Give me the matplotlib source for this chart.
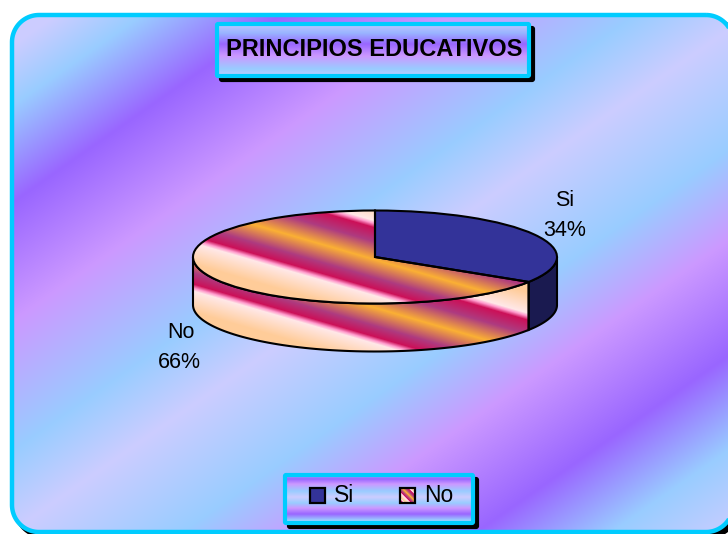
import numpy as np
import matplotlib
matplotlib.use("Agg")
import matplotlib.pyplot as plt
from matplotlib.colors import to_rgb
from matplotlib.patches import Polygon, Rectangle

plt.rcParams["font.family"] = ["Liberation Sans", "DejaVu Sans"]

# Data
categories = ["Si", "No"]
shares = [34, 66]
title_text = "PRINCIPIOS EDUCATIVOS"

W, H = 728, 534
BLUE = "#333399"
BLUE_SIDE = "#1a1a50"
CYAN = "#00ccff"

# pie geometry, in pixels
cx, cy, rx, ry, depth = 375, 257, 182, 46.5, 48

# gradients: position along the band direction, colour
bg_stops = [(55, "#ccccff"), (115, "#99ccff"), (211, "#9966ff"), (330, "#cc99ff"),
            (460, "#99ccff"), (540, "#ccccff"), (660, "#99ccff"), (750, "#cc99ff"),
            (866, "#9966ff"), (960, "#99ccff"), (1050, "#ccccff")]
title_stops = [(22, "#ccccff"), (33, "#99b4ff"), (44, "#9966ff"), (56, "#cc99ff"),
               (69, "#99ccff"), (78, "#ccccff")]
legend_stops = [(473, "#99ccff"), (479, "#9966ff"), (484, "#cc99ff"), (491, "#99ccff"),
                (497, "#ccccff"), (503, "#99ccff"), (508, "#cc99ff"), (514, "#9966ff"),
                (520, "#99ccff"), (524, "#ccccff")]
stripe_stops = [(-25, "#ffcc99"), (-4, "#ffe8e8"), (-1, "#ff99cc"), (3, "#cc1058"),
                (17, "#ae3b80"), (35, "#fbb034"), (53, "#ae3b80"), (64, "#cc1058"),
                (68, "#ff99cc"), (71, "#ffe8e8"), (92, "#ffcc99")]


def ramp(t, stops):
    pos = [s[0] for s in stops]
    cols = np.array([to_rgb(s[1]) for s in stops])
    return np.dstack([np.interp(t, pos, cols[:, i]) for i in range(3)])


px, py = np.meshgrid(np.arange(W) + 0.5, np.arange(H) + 0.5)

fig = plt.figure(figsize=(W / 100, H / 100), dpi=100)
fig.patch.set_facecolor("white")
ax = fig.add_axes([0, 0, 1, 1])
ax.set_xlim(0, W)
ax.set_ylim(H, 0)
ax.axis("off")


# plain polygon rather than FancyBboxPatch: its curves get mangled past the figure edge
def rounded(x0, y0, x1, y1, r):
    pts = []
    corners = [(x1 - r, y0 + r, -90), (x1 - r, y1 - r, 0), (x0 + r, y1 - r, 90), (x0 + r, y0 + r, 180)]
    for ccx, ccy, a in corners:
        th = np.radians(np.linspace(a, a + 90, 24))
        pts.append(np.column_stack([ccx + r * np.cos(th), ccy + r * np.sin(th)]))
    return np.vstack(pts)


def box(x0, y0, x1, y1, r, stops, z, use_bg=False, lw=3.0):
    ax.add_patch(Polygon(rounded(x0 + 4, y0 + 4, x1 + 4, y1 + 4, r), closed=True,
                         fc="black", ec="black", lw=lw, zorder=z))
    frame = Polygon(rounded(x0, y0, x1, y1, r), closed=True, fc="none", ec=CYAN, lw=lw, zorder=z + 2)
    ax.add_patch(frame)
    img = ramp(py + 0.7 * px, stops) if use_bg else ramp(py, stops)
    im = ax.imshow(img, extent=(0, W, H, 0), origin="upper", aspect="auto", zorder=z + 1,
                   interpolation="bilinear")
    im.set_clip_path(frame)


box(12, 15, 733, 532, 27, bg_stops, 1, use_bg=True, lw=3.2)
box(217, 24, 529, 76, 1, title_stops, 4)
box(285, 475, 473, 523, 1, legend_stops, 4)

ax.text(374, 50, title_text, fontsize=17, fontweight="bold", ha="center", va="center", zorder=8)

# labels
ax.text(565, 200, categories[0], fontsize=15.5, ha="center", va="center", zorder=8)
ax.text(565, 230, f"{shares[0]}%", fontsize=15.5, ha="center", va="center", zorder=8)
ax.text(181, 332, categories[1], fontsize=15.5, ha="center", va="center", zorder=8)
ax.text(179, 362, f"{shares[1]}%", fontsize=15.5, ha="center", va="center", zorder=8)

# legend
ax.add_patch(Rectangle((310, 488), 15, 15, fc=BLUE, ec="black", lw=1.6, zorder=8))
ax.text(334, 496, categories[0], fontsize=16.5, ha="left", va="center", zorder=8)
key = Rectangle((400, 488), 15, 15, fc="none", ec="black", lw=1.6, zorder=9)
ax.add_patch(key)
key_im = ax.imshow(ramp((py - px) * 5.5 % 107 - 10, stripe_stops), extent=(0, W, H, 0),
                   origin="upper", aspect="auto", zorder=8, interpolation="nearest")
key_im.set_clip_path(key)
ax.text(424, 496, categories[1], fontsize=16.5, ha="left", va="center", zorder=8)
ax.set_xlim(0, W)
ax.set_ylim(H, 0)

# 3d pie: unit circle squashed by a full-figure axes
pie_ax = fig.add_axes([0, 0, 1, 1])
pie_ax.patch.set_visible(False)
wedges, _ = pie_ax.pie(shares, colors=[BLUE, "none"], startangle=90, counterclock=False, radius=1,
                       wedgeprops={"edgecolor": "black", "linewidth": 1.5})
pie_ax.set_aspect("auto")
xlim = (-cx / rx, (W - cx) / rx)
ylim = ((cy - H) / ry, cy / ry)
pie_ax.set_xlim(xlim)
pie_ax.set_ylim(ylim)
pie_ax.axis("off")
d = depth / ry
for w in wedges:
    w.set_zorder(5)

split = 2 * np.pi * shares[0] / sum(shares)


def side(a0, a1, **kw):
    th = np.linspace(a0, a1, 80)
    top = np.column_stack([np.sin(th), np.cos(th)])
    bot = top[::-1] - [0, d]
    poly = Polygon(np.vstack([top, bot]), closed=True, transform=pie_ax.transData, **kw)
    pie_ax.add_patch(poly)
    return poly


side(np.pi / 2, split, fc=BLUE_SIDE, ec="black", lw=1.5, zorder=3)
no_side = side(split, 3 * np.pi / 2, fc="none", ec="black", lw=1.5, zorder=3)

tilt = py - 0.29 * px
ext = (xlim[0], xlim[1], ylim[0], ylim[1])
im = pie_ax.imshow(ramp(tilt - 164, stripe_stops), extent=ext, origin="upper", aspect="auto", zorder=2,
                   interpolation="bilinear")
im.set_clip_path(no_side)
im = pie_ax.imshow(ramp(tilt - 116, stripe_stops), extent=ext, origin="upper", aspect="auto", zorder=4,
                   interpolation="bilinear")
im.set_clip_path(wedges[1])
pie_ax.set_xlim(xlim)
pie_ax.set_ylim(ylim)

fig.savefig("out.png", dpi=100, facecolor="white")
